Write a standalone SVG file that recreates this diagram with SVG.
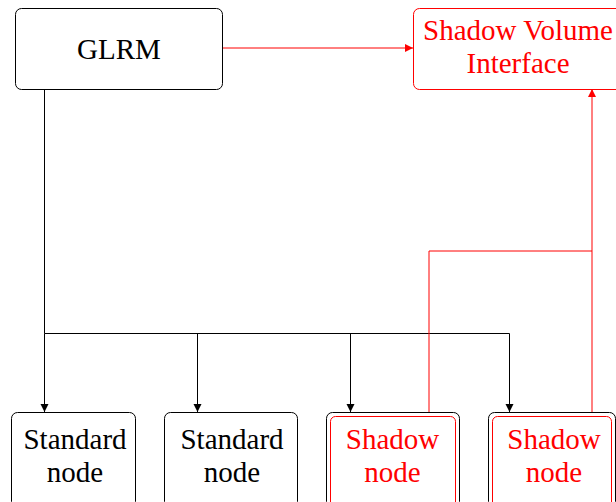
<svg xmlns="http://www.w3.org/2000/svg" width="616" height="502" viewBox="0 0 616 502">
<style>
.box{fill:#fff;stroke:#000;stroke-width:1}
.rbox{fill:#fff;stroke:#ff0000;stroke-width:1}
.t{font-family:'Liberation Serif','Times New Roman',Times,serif;font-size:29px;text-anchor:middle;fill:#000}
.rt{fill:#ff0000}
</style>
<defs>
<marker id="ak" markerWidth="10" markerHeight="10" refX="9" refY="5" orient="auto" markerUnits="userSpaceOnUse">
<path d="M1,1 L9,5 L1,9 Z" fill="#000"/>
</marker>
<marker id="ar" markerWidth="10" markerHeight="10" refX="9" refY="5" orient="auto" markerUnits="userSpaceOnUse">
<path d="M1,1 L9,5 L1,9 Z" fill="#ff0000"/>
</marker>
</defs>
<rect width="616" height="502" fill="#fff"/>
<g id="connectors" fill="none" stroke-width="1">
<path stroke="#000" d="M44.5,89 V333.5 H509.5"/>
<path stroke="#000" d="M44.5,333.5 V412" marker-end="url(#ak)"/>
<path stroke="#000" d="M197.5,333.5 V412" marker-end="url(#ak)"/>
<path stroke="#000" d="M350.5,333.5 V412" marker-end="url(#ak)"/>
<path stroke="#000" d="M509.5,333.5 V412" marker-end="url(#ak)"/>
<path stroke="#ff0000" d="M222,48 H413" marker-end="url(#ar)"/>
<path stroke="#ff0000" d="M429,417 V251 H592"/>
<path stroke="#ff0000" d="M592,417 V89" marker-end="url(#ar)"/>
</g>
<g id="glrm">
<rect class="box" x="15.5" y="8.5" width="207" height="81" rx="6"/>
<text class="t" x="119" y="59">GLRM</text>
</g>
<g id="svi">
<rect class="rbox" x="413.5" y="8.5" width="210" height="81" rx="6"/>
<text class="t rt" x="518" y="40">Shadow Volume</text>
<text class="t rt" x="518" y="73">Interface</text>
</g>
<g id="std1">
<rect class="box" x="11.5" y="412.5" width="124" height="95" rx="6"/>
<text class="t" x="75" y="449">Standard</text>
<text class="t" x="75" y="482">node</text>
</g>
<g id="std2">
<rect class="box" x="164.5" y="412.5" width="133" height="95" rx="6"/>
<text class="t" x="232" y="449">Standard</text>
<text class="t" x="232" y="482">node</text>
</g>
<g id="shadow1">
<rect class="box" x="326.5" y="412.5" width="133" height="95" rx="6"/>
<rect class="rbox" x="330.5" y="416.5" width="125" height="95" rx="5"/>
<text class="t rt" x="392.5" y="449">Shadow</text>
<text class="t rt" x="392.5" y="482">node</text>
</g>
<g id="shadow2">
<rect class="box" x="488.5" y="412.5" width="127" height="95" rx="6"/>
<rect class="rbox" x="492.5" y="416.5" width="119" height="95" rx="5"/>
<text class="t rt" x="554" y="449">Shadow</text>
<text class="t rt" x="554" y="482">node</text>
</g>
</svg>
